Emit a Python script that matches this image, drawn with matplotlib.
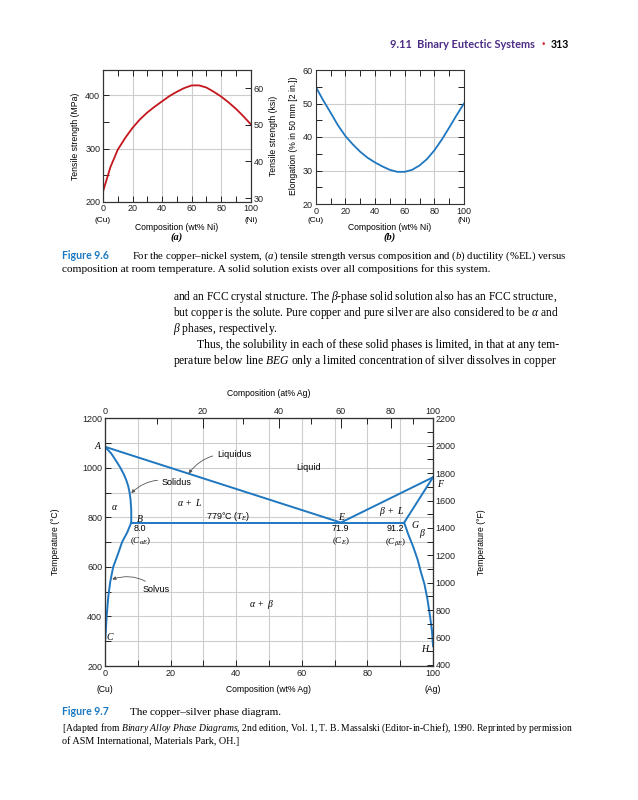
import numpy as np
import matplotlib
matplotlib.use('Agg')
import matplotlib.pyplot as plt

plt.rcParams['font.family'] = ['Liberation Sans', 'DejaVu Sans']
plt.rcParams['mathtext.fontset'] = 'custom'
plt.rcParams['mathtext.rm'] = 'Liberation Serif'
plt.rcParams['mathtext.it'] = 'Liberation Serif:italic'
plt.rcParams['mathtext.bf'] = 'Liberation Serif:bold'

# Fig 9.6 (a): tensile strength vs composition (wt% Ni)
comp_ni = [0, 5, 10, 15, 20, 25, 30, 35, 40, 45, 50, 55, 60, 65, 70, 75, 80, 85, 90, 95, 100]
tensile_mpa = [219, 265, 298, 320, 339, 355, 368, 379, 389, 399, 407, 414, 419, 419, 415, 407, 398, 387, 375, 361, 346]
# Fig 9.6 (b): elongation vs composition
elongation = [55, 51, 47.3, 43.5, 40.3, 37.8, 35.6, 33.8, 32.4, 31.2, 30.2, 29.6, 29.6, 30.2, 31.5, 33.4, 36.0, 39.2, 42.8, 46.5, 50]

# Fig 9.7: Cu-Ag phase diagram (wt% Ag, deg C)
liquidus_x = [0, 71.9, 100]
liquidus_t = [1085, 779, 962]
eutectic_x = [8.0, 91.2]
eutectic_t = [779, 779]
a_solidus_x = [0, 1.9, 3.3, 4.7, 5.7, 6.5, 7.1, 7.5, 7.8, 8.0, 8.0]
a_solidus_t = [1085, 1058, 1030, 1000, 975, 950, 925, 900, 870, 830, 779]
a_solvus_x = [8.0, 6.8, 5.2, 3.9, 2.5, 1.6, 1.0, 0.5, 0.1]
a_solvus_t = [779, 740, 700, 650, 600, 540, 480, 400, 310]
b_solidus_x = [100, 91.2]
b_solidus_t = [962, 779]
b_solvus_x = [91.2, 92.5, 94.0, 95.3, 96.3, 97.4, 98.3, 99.1, 99.7, 100]
b_solvus_t = [779, 730, 680, 630, 580, 530, 470, 400, 340, 280]
at_ticks = [0, 20, 40, 60, 80, 100]
at_minor = [10, 30, 50, 70, 90]

BLUE = '#1f77c0'
RED = '#c4161c'
GRID = '#cdcdcd'
HEAD = '#4b2d85'
FIGBLUE = '#1b78c0'

W, H = 638, 800
fig = plt.figure(figsize=(6.38, 8), dpi=100)
renderer = fig.canvas.get_renderer()

def fx(x): return x / W
def fy(y): return 1 - y / H
def box(x0, y0, x1, y1): return [fx(x0), fy(y1), (x1 - x0) / W, (y1 - y0) / H]

def put(x, y, s, size=7.5, width=None, **kw):
    kw.setdefault('family', 'Liberation Serif')
    kw.setdefault('va', 'baseline')
    t = fig.text(fx(x), fy(y), s, fontsize=size, **kw)
    if width:
        w = t.get_window_extent(renderer).width
        t.set_fontsize(size * width / w)
    return t

def style(ax):
    for s in ax.spines.values():
        s.set_color('#333333')
        s.set_linewidth(0.8)
    ax.tick_params(which='both', direction='in', labelsize=6.5, colors='#222222', pad=2)
    ax.tick_params(which='major', length=4, width=0.7)
    ax.tick_params(which='minor', length=4, width=0.7)

def wt_from_at(a):
    a = np.asarray(a, dtype=float)
    return 100 * a * 107.87 / (a * 107.87 + (100 - a) * 63.55)

# ---------- header ----------
put(535, 48, '9.11  Binary Eutectic Systems', size=7.9, ha='right', family='Lato', weight='bold', color=HEAD)
put(543, 48, '\u00b7', size=9, ha='center', family='Lato', weight='bold', color='#d0202a')
put(569, 48, '313', size=7.6, ha='right', family='Lato', weight='bold', color='black')

# ---------- fig 9.6 (a) ----------
axa = fig.add_axes(box(103, 70, 250.7, 201.7))
axa.plot(comp_ni, tensile_mpa, color=RED, lw=1.3)
axa.set_xlim(0, 100)
axa.set_ylim(200, 448)
axa.set_xticks(range(0, 101, 20))
axa.set_xticks(range(10, 100, 20), minor=True)
axa.set_yticks([200, 300, 400])
axa.set_yticks([250, 350], minor=True)
axa.grid(True, which='major', color=GRID, lw=0.8)
style(axa)
axa.tick_params(which='both', top=True)
axa2 = axa.twinx()
axa2.set_ylim(200 / 6.895, 448 / 6.895)
axa2.set_yticks([30, 40, 50, 60])
style(axa2)

# ---------- fig 9.6 (b) ----------
axb = fig.add_axes(box(315.7, 70, 464, 204))
axb.plot(comp_ni, elongation, color=BLUE, lw=1.3)
axb.set_xlim(0, 100)
axb.set_ylim(20, 60)
axb.set_xticks(range(0, 101, 20))
axb.set_xticks(range(10, 100, 20), minor=True)
axb.set_yticks(range(20, 61, 10))
axb.set_yticks(range(25, 60, 10), minor=True)
axb.grid(True, which='major', color=GRID, lw=0.8)
style(axb)
axb.tick_params(which='both', top=True, right=True)

for x0, x1, tag in [(103, 250.7, '(a)'), (315.7, 464, '(b)')]:
    put(x0, 222, '(Cu)', size=6, ha='center', family='Liberation Sans')
    put(x1, 222, '(Ni)', size=6, ha='center', family='Liberation Sans')
    put((x0 + x1) / 2, 229.5, 'Composition (wt% Ni)', size=6.2, ha='center', family='Liberation Sans')
    put((x0 + x1) / 2, 240, tag, size=7.5, ha='center', style='italic', weight='bold')
put(75.7, 136, 'Tensile strength (MPa)', size=6.2, rotation=90, ha='center', va='center', family='Liberation Sans')
put(273, 136, 'Tensile strength (ksi)', size=6.2, rotation=90, ha='center', va='center', family='Liberation Sans')
put(293, 136, 'Elongation (% in 50 mm [2 in.])', size=6.2, rotation=90, ha='center', va='center', family='Liberation Sans')

# ---------- caption 9.6 + body text ----------
put(62, 259, 'Figure 9.6', size=7.6, family='Lato', weight='bold', color=FIGBLUE)
put(132, 259, r'For the copper–nickel system, ($a$) tensile strength versus composition and ($b$) ductility (%EL) versus',
    size=7.5, width=435)
put(62, 271.5, 'composition at room temperature. A solid solution exists over all compositions for this system.', size=7.5, width=424)

body = [
    (173, 300, r'and an FCC crystal structure. The $\beta$-phase solid solution also has an FCC structure,', 385),
    (173, 316, r'but copper is the solute. Pure copper and pure silver are also considered to be $\alpha$ and', 385),
    (173, 332, r'$\beta$ phases, respectively.', None),
    (197, 348, 'Thus, the solubility in each of these solid phases is limited, in that at any tem-', 361),
    (173, 364, r'perature below line $BEG$ only a limited concentration of silver dissolves in copper', 385),
]
for x0, y0, s, w in body:
    put(x0, y0, s, size=8.3, width=w)

# ---------- fig 9.7 phase diagram ----------
ax = fig.add_axes(box(105, 418.3, 433, 666))
for xs, ts in [(liquidus_x, liquidus_t), (eutectic_x, eutectic_t), (a_solidus_x, a_solidus_t),
               (a_solvus_x, a_solvus_t), (b_solidus_x, b_solidus_t), (b_solvus_x, b_solvus_t)]:
    ax.plot(xs, ts, color=BLUE, lw=1.4, solid_joinstyle='miter', zorder=3)
ax.set_xlim(0, 100)
ax.set_ylim(200, 1200)
ax.set_xticks(range(0, 101, 20))
ax.set_xticks(range(10, 100, 20), minor=True)
ax.set_yticks(range(200, 1201, 200))
ax.set_yticks(range(300, 1200, 200), minor=True)
ax.grid(True, which='both', color=GRID, lw=0.8)
ax.set_axisbelow(True)
style(ax)

axr = ax.twinx()
axr.set_ylim(392, 2200)
axr.set_yticks(range(400, 2201, 200))
axr.set_yticks(range(500, 2200, 200), minor=True)
style(axr)

axt = ax.twiny()
axt.set_xlim(0, 100)
axt.set_xticks(wt_from_at(at_ticks))
axt.set_xticklabels([str(a) for a in at_ticks])
axt.set_xticks(wt_from_at(at_minor), minor=True)
style(axt)
axt.tick_params(which='major', length=7)

tk = dict(fontsize=6.5, ha='center', va='center', zorder=5)
mk = dict(fontsize=7, ha='center', va='center', zorder=5)
ax.text(-0.9, 1090, '$A$', ha='right', va='center', fontsize=7, clip_on=False)
ax.text(2.8, 841, r'$\alpha$', **mk)
ax.text(9.4, 796, '$B$', ha='left', va='center', fontsize=7)
ax.text(25.8, 859, r'$\alpha\ +\ L$', **mk)
ax.text(37.5, 803, r'779°C ($T_E$)', **tk)
ax.text(10.7, 756, '8.0', **tk)
ax.text(10.7, 702, r'$(C_{\alpha E})$', **tk)
ax.text(62.2, 1002, 'Liquid', **tk)
ax.text(72.2, 805, '$E$', **mk)
ax.text(87.2, 823, r'$\beta\ +\ L$', **mk)
ax.text(102.5, 937, '$F$', fontsize=7, ha='center', va='center', clip_on=False)
ax.text(94.5, 772, '$G$', **mk)
ax.text(96.9, 736, r'$\beta$', **mk)
ax.text(71.8, 756, '71.9', **tk)
ax.text(71.8, 702, '$(C_E)$', **tk)
ax.text(88.4, 756, '91.2', **tk)
ax.text(88.4, 702, r'$(C_{\beta E})$', **tk)
ax.text(47.6, 450, r'$\alpha\ +\ \beta$', **mk)
ax.text(1.7, 321, '$C$', **mk)
ax.text(97.9, 271, '$H$', **mk)

arrow = dict(arrowstyle='-|>', color='#555555', lw=0.6, mutation_scale=5, shrinkA=1, shrinkB=0)
ax.annotate('Liquidus', xy=(25.5, 977), xytext=(34.1, 1052), fontsize=6.5, ha='left', va='center',
            arrowprops=dict(connectionstyle='arc3,rad=0.3', **arrow))
ax.annotate('Solidus', xy=(8.0, 898), xytext=(17.3, 940), fontsize=6.5, ha='left', va='center',
            arrowprops=dict(connectionstyle='arc3,rad=0.3', **arrow))
ax.annotate('Solvus', xy=(2.2, 550), xytext=(11.5, 510), fontsize=6.5, ha='left', va='center',
            arrowprops=dict(connectionstyle='arc3,rad=0.3', **arrow))

put(269, 393, 'Composition (at% Ag)', size=6.2, ha='center', va='center', family='Liberation Sans')
put(105, 690, '(Cu)', size=6.2, ha='center', va='center', family='Liberation Sans')
put(269, 690, 'Composition (wt% Ag)', size=6.2, ha='center', va='center', family='Liberation Sans')
put(433, 690, '(Ag)', size=6.2, ha='center', va='center', family='Liberation Sans')
put(56, 542, 'Temperature (°C)', size=6.2, rotation=90, ha='center', va='center', family='Liberation Sans')
put(481, 542, 'Temperature (°F)', size=6.2, rotation=90, ha='center', va='center', family='Liberation Sans')

# ---------- caption 9.7 ----------
put(62, 715, 'Figure 9.7', size=7.6, family='Lato', weight='bold', color=FIGBLUE)
put(130, 715, 'The copper–silver phase diagram.', size=8)
put(62, 731, r'[Adapted from $\mathit{Binary\ Alloy\ Phase\ Diagrams}$, 2nd edition, Vol. 1, T. B. Massalski (Editor-in-Chief), 1990. Reprinted by permission',
    size=7.3, width=513)
put(62, 744, 'of ASM International, Materials Park, OH.]', size=7.3)

fig.savefig('out.png', dpi=100)
